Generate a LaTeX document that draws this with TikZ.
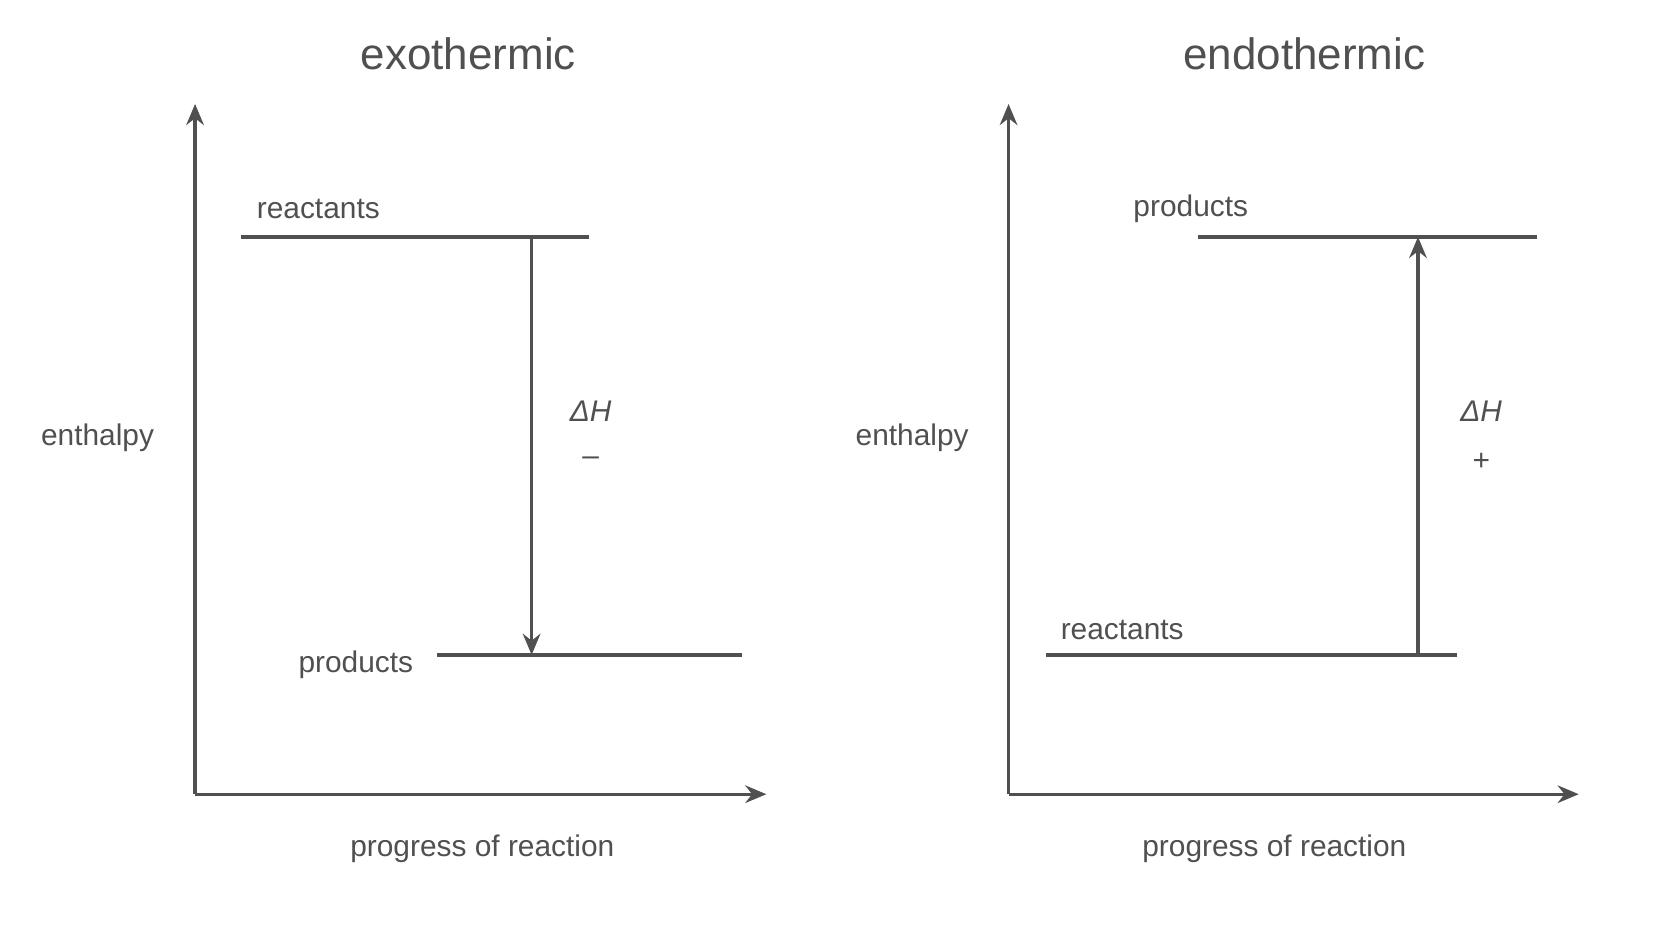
\documentclass[tikz,border=0pt]{standalone}
\usepackage{fontspec}
\setmainfont{Liberation Sans}
\usetikzlibrary{arrows.meta}
\definecolor{gcol}{RGB}{80,80,80}
\tikzset{every picture/.style={x=0.02144cm,y=-0.02144cm}}
\tikzset{axis/.style={gcol,line width=1.9pt,-{Stealth[length=12pt,width=10pt]}}}
\tikzset{level/.style={gcol,line width=1.9pt}}
\tikzset{lbl/.style={gcol,inner sep=0pt,font=\fontsize{17}{19}\selectfont}}
\tikzset{ttl/.style={gcol,inner sep=0pt,font=\fontsize{25}{28}\selectfont}}

\begin{document}
\begin{tikzpicture}
\useasboundingbox (0,0) rectangle (1560,878);
\node [ttl] (t1) at (437,50) {exothermic};
\node [ttl] (t2) at (1217,50) {endothermic};

\coordinate (o1) at (182,741);
\coordinate (y1) at (182,97);
\coordinate (x1) at (715,741);
\draw [axis] (o1) -- (y1);
\draw [axis] (o1) -- (x1);
\node [lbl] (e1) at (91,408) {enthalpy};
\node [lbl] (p1) at (450,792) {progress of reaction};

\coordinate (r1a) at (225,221);
\coordinate (r1b) at (550,221);
\coordinate (q1a) at (408,611);
\coordinate (q1b) at (692,611);
\coordinate (d1a) at (496,221);
\coordinate (d1b) at (496,611);
\draw [level] (r1a) -- (r1b);
\draw [level] (q1a) -- (q1b);
\draw [axis] (d1a) -- (d1b);
\node [lbl] (rl1) at (297,195) {reactants};
\node [lbl] (ql1) at (332,620) {products};
\node [lbl] (h1) at (551,384) {\itshape ΔH};
\node [lbl] (s1) at (551,430) {–};

\coordinate (o2) at (941,741);
\coordinate (y2) at (941,97);
\coordinate (x2) at (1473,741);
\draw [axis] (o2) -- (y2);
\draw [axis] (o2) -- (x2);
\node [lbl] (e2) at (851,408) {enthalpy};
\node [lbl] (p2) at (1189,792) {progress of reaction};

\coordinate (q2a) at (1118,221);
\coordinate (q2b) at (1434,221);
\coordinate (r2a) at (976,611);
\coordinate (r2b) at (1359,611);
\coordinate (d2a) at (1323,611);
\coordinate (d2b) at (1323,221);
\draw [level] (q2a) -- (q2b);
\draw [level] (r2a) -- (r2b);
\draw [axis] (d2a) -- (d2b);
\node [lbl] (ql2) at (1111,195) {products};
\node [lbl] (rl2) at (1047,588) {reactants};
\node [lbl] (h2) at (1382,384) {\itshape ΔH};
\node [lbl] (s2) at (1382,431) {+};
\end{tikzpicture}
\end{document}
